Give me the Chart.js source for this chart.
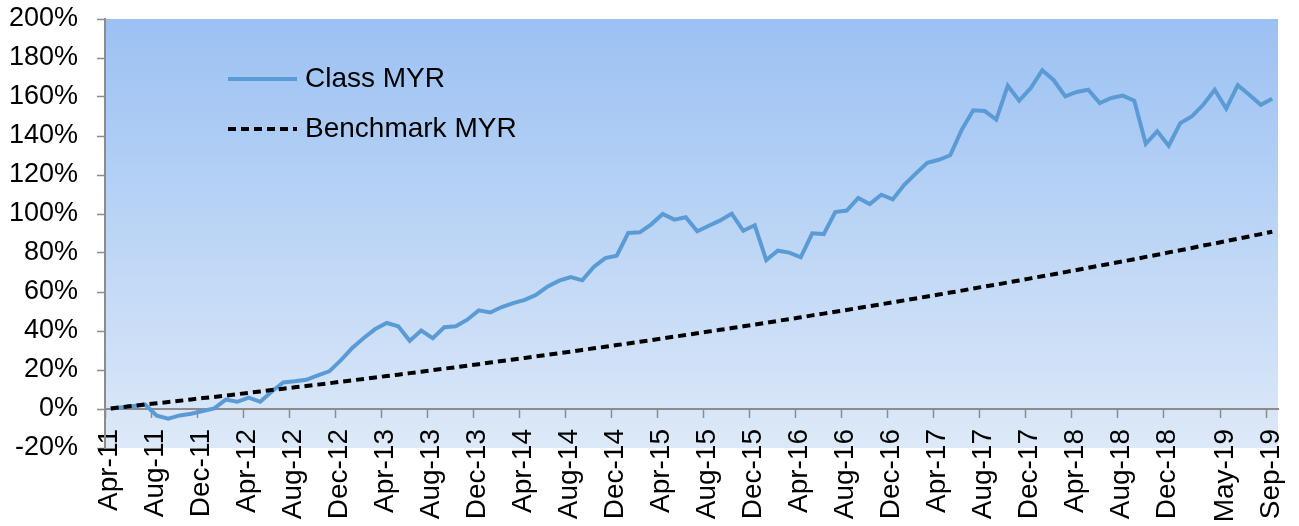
<!DOCTYPE html>
<html>
<head>
<meta charset="utf-8">
<script src="https://cdn.jsdelivr.net/npm/chart.js@4.4.1/dist/chart.umd.min.js"></script>
<style>
  body { margin: 0; background: #fff; }
  #wrap { width: 1299px; height: 526px; position: relative; }
</style>
</head>
<body>
<div id="wrap"><canvas id="chart"></canvas></div>
<script>
// months from Apr-11 to Sep-19
const months = [
  "Apr-11","May-11","Jun-11","Jul-11","Aug-11","Sep-11","Oct-11","Nov-11","Dec-11",
  "Jan-12","Feb-12","Mar-12","Apr-12","May-12","Jun-12","Jul-12","Aug-12","Sep-12","Oct-12","Nov-12","Dec-12",
  "Jan-13","Feb-13","Mar-13","Apr-13","May-13","Jun-13","Jul-13","Aug-13","Sep-13","Oct-13","Nov-13","Dec-13",
  "Jan-14","Feb-14","Mar-14","Apr-14","May-14","Jun-14","Jul-14","Aug-14","Sep-14","Oct-14","Nov-14","Dec-14",
  "Jan-15","Feb-15","Mar-15","Apr-15","May-15","Jun-15","Jul-15","Aug-15","Sep-15","Oct-15","Nov-15","Dec-15",
  "Jan-16","Feb-16","Mar-16","Apr-16","May-16","Jun-16","Jul-16","Aug-16","Sep-16","Oct-16","Nov-16","Dec-16",
  "Jan-17","Feb-17","Mar-17","Apr-17","May-17","Jun-17","Jul-17","Aug-17","Sep-17","Oct-17","Nov-17","Dec-17",
  "Jan-18","Feb-18","Mar-18","Apr-18","May-18","Jun-18","Jul-18","Aug-18","Sep-18","Oct-18","Nov-18","Dec-18",
  "Jan-19","Feb-19","Mar-19","Apr-19","May-19","Jun-19","Jul-19","Aug-19","Sep-19"
];

// labels that appear on the axis
const tickLabels = [
  "Apr-11","Aug-11","Dec-11","Apr-12","Aug-12","Dec-12","Apr-13","Aug-13","Dec-13",
  "Apr-14","Aug-14","Dec-14","Apr-15","Aug-15","Dec-15","Apr-16","Aug-16","Dec-16",
  "Apr-17","Aug-17","Dec-17","Apr-18","Aug-18","Dec-18","May-19","Sep-19"
];

// cumulative return, %
const classMYR = [
  0.3, 0.9, 1.5, 2.2, -3.4, -5.0, -3.3, -2.4, -1.0, 0.3,
  4.8, 3.7, 5.8, 3.7, 9.0, 13.6, 14.2, 15.0, 17.2, 19.3,
  24.9, 31.3, 36.4, 41.0, 44.1, 42.4, 35.0, 40.2, 36.3, 41.9,
  42.4, 45.8, 50.6, 49.5, 52.3, 54.3, 56.0, 58.6, 62.9, 65.8,
  67.7, 66.0, 72.8, 77.4, 78.6, 90.3, 90.6, 94.7, 100.0, 97.1,
  98.3, 91.1, 94.0, 96.7, 100.2, 91.4, 94.2, 76.4, 81.2, 80.2,
  77.8, 90.1, 89.7, 101.0, 101.8, 108.2, 105.1, 109.9, 107.5, 115.0,
  120.7, 126.2, 127.8, 130.1, 143.2, 153.2, 152.8, 148.4, 165.8, 158.1,
  164.6, 173.7, 168.6, 160.3, 162.6, 163.7, 156.9, 159.5, 160.7, 158.1,
  136.0, 142.4, 135.0, 146.6, 150.0, 156.0, 163.7, 154.0, 166.1, 161.2,
  156.0, 159.1
];

const benchmarkMYR = [
  0.3, 1.0, 1.6, 2.3, 2.9, 3.6, 4.2, 4.9, 5.6, 6.2,
  6.9, 7.6, 8.3, 9.0, 9.7, 10.4, 11.1, 11.8, 12.5, 13.2,
  14.0, 14.7, 15.4, 16.2, 16.9, 17.6, 18.4, 19.1, 19.9, 20.7,
  21.4, 22.2, 23.0, 23.8, 24.6, 25.4, 26.2, 27.0, 27.8, 28.6,
  29.4, 30.3, 31.1, 31.9, 32.8, 33.6, 34.5, 35.3, 36.2, 37.1,
  37.9, 38.8, 39.7, 40.6, 41.5, 42.4, 43.3, 44.2, 45.2, 46.1,
  47.0, 48.0, 48.9, 49.9, 50.8, 51.8, 52.7, 53.7, 54.7, 55.7,
  56.7, 57.7, 58.7, 59.7, 60.7, 61.8, 62.8, 63.8, 64.9, 65.9,
  67.0, 68.1, 69.1, 70.2, 71.3, 72.4, 73.5, 74.6, 75.7, 76.8,
  78.0, 79.1, 80.3, 81.4, 82.6, 83.8, 84.9, 86.1, 87.3, 88.5,
  89.7, 90.9
];

const FONT = "'Liberation Sans', Arial, sans-serif";

// gradient fill behind the plot
const plotBackground = {
  id: "plotBackground",
  beforeDraw(chart) {
    const { ctx, chartArea: a } = chart;
    const g = ctx.createLinearGradient(0, a.top, 0, a.bottom);
    g.addColorStop(0, "#9bc1f3");
    g.addColorStop(1, "#dde9f8");
    ctx.save();
    ctx.fillStyle = g;
    ctx.fillRect(a.left, a.top, a.right - a.left, a.bottom - a.top);
    ctx.restore();
  }
};

// legend drawn inside the plot, top left
const innerLegend = {
  id: "innerLegend",
  afterDraw(chart) {
    const { ctx, chartArea: a } = chart;
    const items = [chart.data.datasets[0], chart.data.datasets[1]];
    ctx.save();
    items.forEach((ds, i) => {
      const y = a.top + 60 + i * 50;
      ctx.beginPath();
      ctx.strokeStyle = ds.borderColor;
      ctx.lineWidth = ds.borderWidth;
      ctx.setLineDash(ds.borderDash || []);
      ctx.moveTo(a.left + 123, y);
      ctx.lineTo(a.left + 192, y);
      ctx.stroke();
      ctx.setLineDash([]);
      ctx.fillStyle = "#000";
      ctx.font = "28px " + FONT;
      ctx.textBaseline = "middle";
      ctx.fillText(ds.label, a.left + 200, y);
    });
    ctx.restore();
  }
};

function noPadding(s) {
  s.paddingLeft = 0;
  s.paddingRight = 0;
  s.paddingTop = 0;
  s.paddingBottom = 0;
}

new Chart(document.getElementById("chart"), {
  type: "line",
  data: {
    labels: months,
    datasets: [
      {
        label: "Class MYR",
        data: classMYR,
        borderColor: "#5b9bd5",
        borderWidth: 4,
        pointRadius: 0,
        tension: 0,
        order: 2
      },
      {
        label: "Benchmark MYR",
        data: benchmarkMYR,
        borderColor: "#000000",
        borderWidth: 4,
        borderDash: [8, 5],
        pointRadius: 0,
        tension: 0,
        order: 1
      }
    ]
  },
  options: {
    responsive: true,
    maintainAspectRatio: false,
    animation: false,
    layout: { padding: { left: 0, top: 19, right: 21, bottom: 78 } },
    plugins: {
      legend: { display: false },
      tooltip: { enabled: false }
    },
    scales: {
      x: {
        type: "category",
        position: { y: 0 },
        offset: true,
        afterFit: noPadding,
        grid: {
          offset: true,
          drawOnChartArea: false,
          tickLength: 8,
          tickWidth: 1.5,
          tickColor: (c) => tickLabels.includes(months[c.index]) ? "#8c8c8c" : "rgba(0,0,0,0)"
        },
        border: { color: "#8c8c8c", width: 2 },
        ticks: {
          autoSkip: false,
          maxRotation: 90,
          minRotation: 90,
          padding: 12,
          labelOffset: -1,
          color: "#000",
          font: { family: FONT, size: 28 },
          callback: (v, i) => tickLabels.includes(months[i]) ? months[i] : ""
        }
      },
      y: {
        min: -20,
        max: 200,
        afterFit: (s) => { noPadding(s); s.width = 105; },
        grid: {
          drawOnChartArea: false,
          tickLength: 8,
          tickWidth: 1.5,
          tickColor: "#8c8c8c"
        },
        border: { color: "#8c8c8c", width: 2 },
        ticks: {
          stepSize: 20,
          padding: 19,
          color: "#000",
          font: { family: FONT, size: 27 },
          callback: (v) => v + "%"
        }
      }
    }
  },
  plugins: [plotBackground, innerLegend]
});
</script>
</body>
</html>
